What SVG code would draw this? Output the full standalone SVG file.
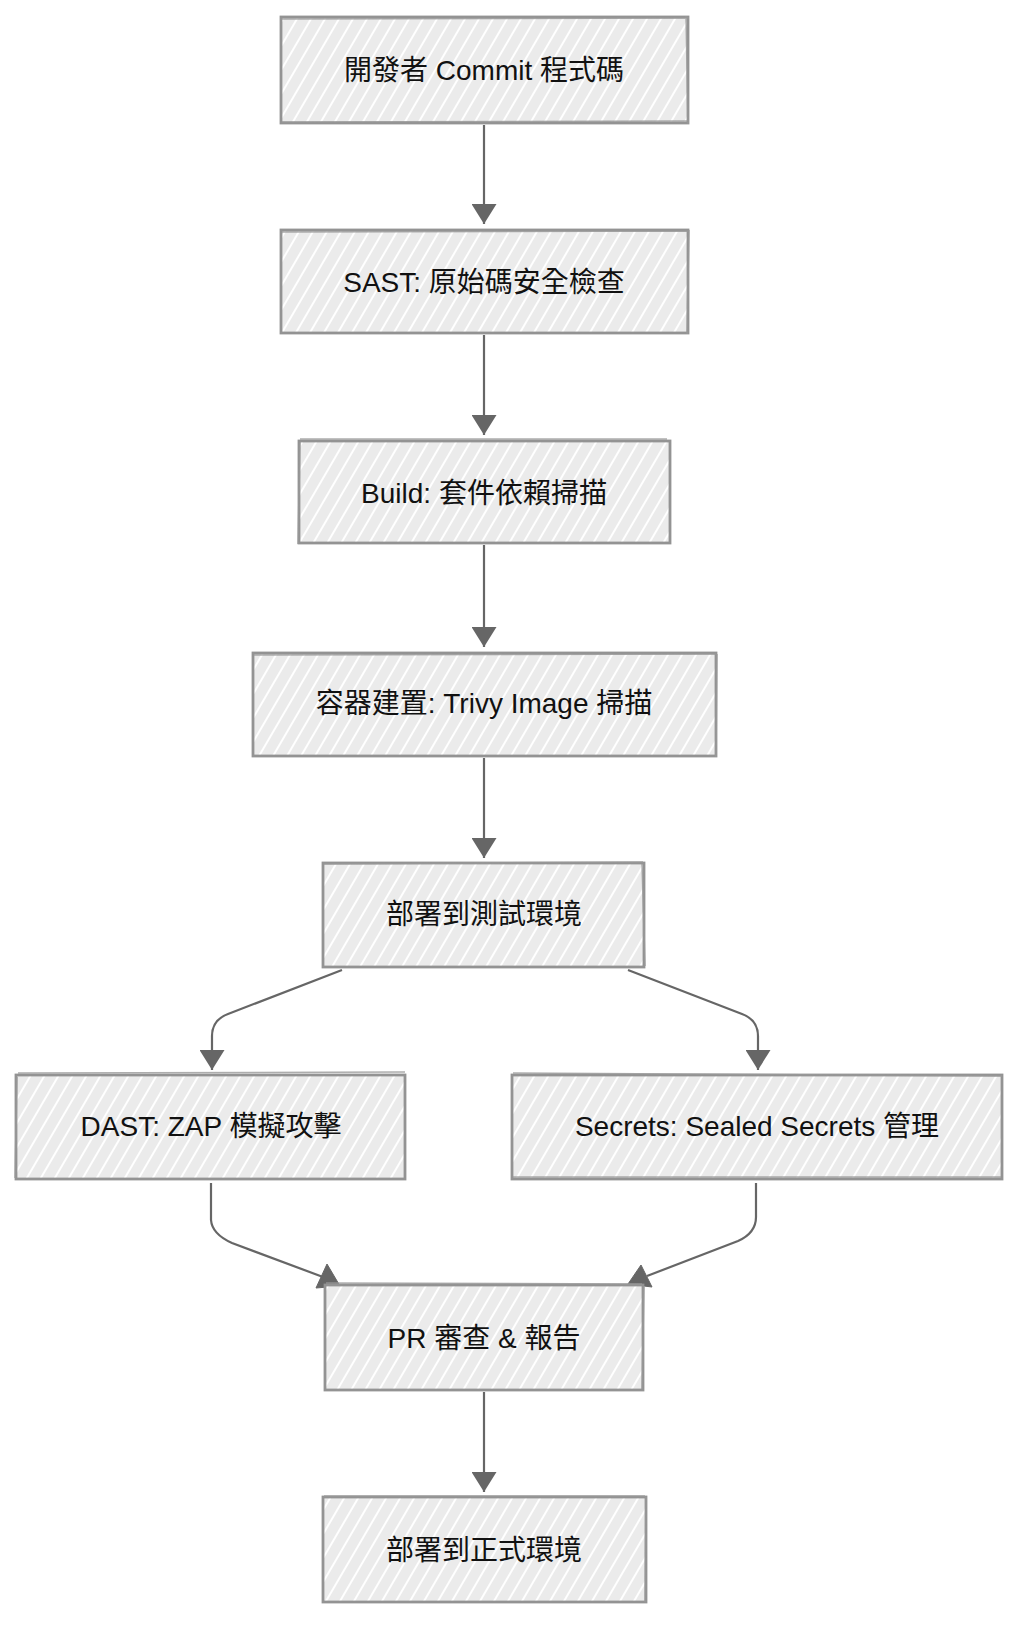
<svg xmlns="http://www.w3.org/2000/svg" width="1024" height="1627" viewBox="0 0 1024 1627">
<style>
.box{fill:url(#hatch);stroke:#939393;stroke-width:2.8}
.sk{fill:none;stroke:#999;stroke-width:1.5;opacity:0.8}
.lbl{font-family:"Liberation Sans","Noto Sans CJK TC",sans-serif;font-size:28px;fill:#111;text-anchor:middle;dominant-baseline:central}
.edge{fill:none;stroke:#666;stroke-width:2.2}
.head{fill:#666;stroke:#666;stroke-width:1}
</style>
<defs>
<pattern id="hatch" patternUnits="userSpaceOnUse" width="14" height="24">
<rect width="14" height="24" fill="#ebebeb"/>
<line x1="0" y1="24" x2="14" y2="0" stroke="#ffffff" stroke-width="2"/>
<line x1="-1" y1="1.7" x2="1" y2="-1.7" stroke="#ffffff" stroke-width="2"/>
<line x1="13" y1="25.7" x2="15" y2="22.3" stroke="#ffffff" stroke-width="2"/>
</pattern>
<marker id="arr" viewBox="0 0 20 25" refX="20" refY="12.5" markerWidth="20" markerHeight="25" markerUnits="userSpaceOnUse" orient="auto">
<path d="M0,0 L20,12.5 L0,25 z" fill="#666"/>
</marker>
</defs>
<rect width="1024" height="1627" fill="#ffffff"/>
<g id="connectors">
<path class="edge" d="M484,125 L484,224" marker-end="url(#arr)"/>
<path class="edge" d="M484,335 L484,435" marker-end="url(#arr)"/>
<path class="edge" d="M484,545 L484,647" marker-end="url(#arr)"/>
<path class="edge" d="M484,758 L484,858" marker-end="url(#arr)"/>
<path class="edge" d="M342,970 L228,1014 Q212,1020 212,1036 L212,1070" marker-end="url(#arr)"/>
<path class="edge" d="M628,970 L742,1014 Q758,1020 758,1036 L758,1070" marker-end="url(#arr)"/>
<path class="edge" d="M211,1183 L211,1220 Q212,1234 232,1243 L323,1277"/>
<polygon class="head" points="327,1264 316,1288 340,1286"/>
<path class="edge" d="M756,1183 L756,1217 Q756,1233 738,1241 L647,1276"/>
<polygon class="head" points="641,1265 628,1284 652,1287"/>
<path class="edge" d="M484,1392 L484,1492" marker-end="url(#arr)"/>
</g>
<g id="n1">
<rect class="box" x="281" y="17" width="407" height="106"/>
<path class="sk" d="M280,19 L689,18 M686,16 L688,124 M689,121 L282,122"/>
<text class="lbl" x="484" y="70">開發者 Commit 程式碼</text>
</g>
<g id="n2">
<rect class="box" x="281" y="230" width="407" height="103"/>
<path class="sk" d="M282,232 L689,231 M689,230 L687,334"/>
<text class="lbl" x="484" y="282">SAST: 原始碼安全檢查</text>
</g>
<g id="n3">
<rect class="box" x="299" y="441" width="371" height="102"/>
<path class="sk" d="M300,439 L667,439 M300,442 L298,544"/>
<text class="lbl" x="484" y="493">Build: 套件依賴掃描</text>
</g>
<g id="n4">
<rect class="box" x="253" y="653" width="463" height="103"/>
<path class="sk" d="M254,655 L716,654 M717,654 L716,757"/>
<text class="lbl" x="484" y="703">容器建置: Trivy Image 掃描</text>
</g>
<g id="n5">
<rect class="box" x="323" y="863" width="321" height="104"/>
<path class="sk" d="M324,864 L643,862 M642,864 L645,966"/>
<text class="lbl" x="484" y="914">部署到測試環境</text>
</g>
<g id="n6">
<rect class="box" x="16" y="1075" width="389" height="104"/>
<path class="sk" d="M18,1073 L405,1072 M17,1077 L15,1178"/>
<text class="lbl" x="211" y="1126">DAST: ZAP 模擬攻擊</text>
</g>
<g id="n7">
<rect class="box" x="512" y="1075" width="490" height="104"/>
<path class="sk" d="M513,1073 L1002,1076 M513,1177 L1001,1177"/>
<text class="lbl" x="757" y="1126">Secrets: Sealed Secrets 管理</text>
</g>
<g id="n8">
<rect class="box" x="325" y="1285" width="318" height="105"/>
<path class="sk" d="M326,1283 L642,1284 M644,1286 L642,1389"/>
<text class="lbl" x="484" y="1338">PR 審查 &amp; 報告</text>
</g>
<g id="n9">
<rect class="box" x="323" y="1497" width="323" height="105"/>
<path class="sk" d="M324,1496 L645,1496 M646,1497 L645,1602"/>
<text class="lbl" x="484" y="1550">部署到正式環境</text>
</g>
</svg>
